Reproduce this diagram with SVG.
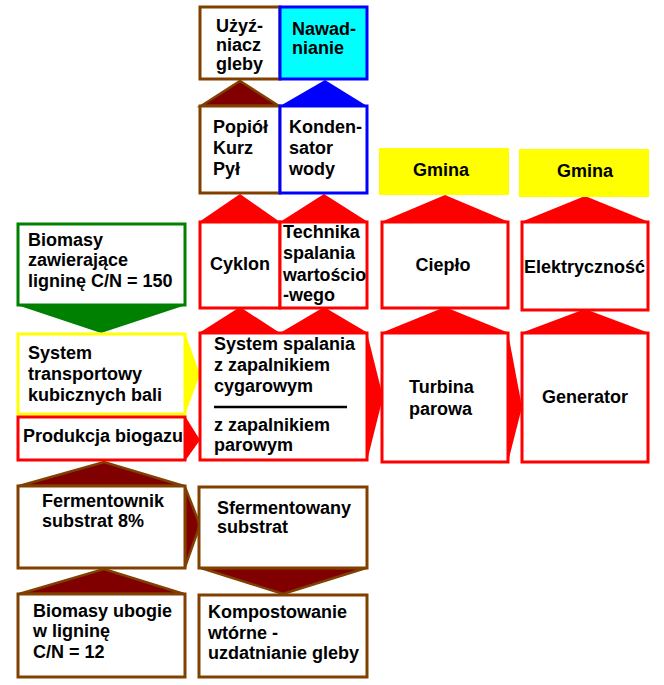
<svg xmlns="http://www.w3.org/2000/svg" width="664" height="685" viewBox="0 0 664 685">
<style>
text{font-family:"Liberation Sans",Arial,sans-serif;font-weight:bold;font-size:18px;fill:#000}
.c{text-anchor:middle}
.box{fill:#fff;stroke-width:3}
.br{stroke:#804000}
.rd{stroke:#ff0000}
.bl{stroke:#0000ff}
.gr{stroke:#008000}
.ye{stroke:#ffff00}
.abr{fill:#800000;stroke:#804000;stroke-width:2.5;stroke-linejoin:miter}
.ard{fill:#ff0000}
.abl{fill:#0000ff}
.agr{fill:#008000}
.aye{fill:#ffff00}
</style>
<rect width="664" height="685" fill="#fff"/>
<g id="connectors">
<polygon class="abr" points="201,106 240,81 279,106"/>
<polygon class="abl" points="280,106 325,80 367,106"/>
<polygon class="ard" points="199,222 240,194 280,222"/>
<polygon class="ard" points="280,222 324,194 368,222"/>
<polygon class="ard" points="199,333 240,307 280,333"/>
<polygon class="ard" points="280,333 324,307 368,333"/>
<polygon class="ard" points="381,222 445,195 509,222"/>
<polygon class="ard" points="521,222 585,196 649,222"/>
<polygon class="ard" points="381,333 445,307 509,333"/>
<polygon class="ard" points="521,333 585,309 649,333"/>
<polygon class="ard" points="367,333 383,397 367,461"/>
<polygon class="ard" points="508,333 522,407 508,462"/>
<polygon class="agr" points="17,305 186,305 101,333"/>
<polygon class="aye" points="185,333 200,374 185,415"/>
<polygon class="ard" points="185,416 200,440 185,461"/>
<polygon class="abr" points="19,486 104,462 184,486"/>
<polygon class="abr" points="185,487 200,525 185,567"/>
<polygon class="abr" points="19,594 104,569 184,594"/>
<polygon class="abr" points="201,568 283,594 366,568"/>
</g>
<g id="n-uzyzniacz"><rect class="box br" x="200" y="7" width="80" height="72"/><text x="216" y="32">Użyź-</text><text x="216" y="51">niacz</text><text x="216" y="70">gleby</text></g>
<g id="n-nawadnianie"><rect class="box bl" x="280" y="7" width="87" height="72" style="fill:#00ffff"/><text x="292" y="35">Nawad-</text><text x="292" y="54">nianie</text></g>
<g id="n-popiol"><rect class="box br" x="200" y="106" width="80" height="87"/><text x="213" y="133">Popiół</text><text x="213" y="154">Kurz</text><text x="213" y="175">Pył</text></g>
<g id="n-kondensator"><rect class="box bl" x="280" y="106" width="87" height="87"/><text x="289" y="133">Konden-</text><text x="289" y="154">sator</text><text x="289" y="175">wody</text></g>
<g id="n-cyklon"><rect class="box rd" x="200" y="222" width="80" height="86"/><text class="c" x="240" y="270">Cyklon</text></g>
<g id="n-technika"><rect class="box rd" x="280" y="222" width="87" height="86"/><text x="283" y="238">Technika</text><text x="283" y="259">spalania</text><text x="283" y="281" textLength="83" lengthAdjust="spacingAndGlyphs">wartościo</text><text x="283" y="301">-wego</text></g>
<g id="n-system-spalania"><rect class="box rd" x="200" y="333" width="167" height="127"/><text x="214" y="350">System spalania</text><text x="214" y="371">z zapalnikiem</text><text x="214" y="392">cygarowym</text><line x1="214" y1="407" x2="347" y2="407" stroke="#000" stroke-width="2.5"/><text x="214" y="431">z zapalnikiem</text><text x="214" y="451">parowym</text></g>
<g id="n-gmina1"><rect x="379" y="148" width="130" height="47" fill="#ffff00"/><text class="c" x="441" y="176">Gmina</text></g>
<g id="n-gmina2"><rect x="519" y="149" width="130" height="48" fill="#ffff00"/><text class="c" x="585" y="177">Gmina</text></g>
<g id="n-cieplo"><rect class="box rd" x="382" y="222" width="126" height="86"/><text class="c" x="443" y="271">Ciepło</text></g>
<g id="n-elektrycznosc"><rect class="box rd" x="522" y="222" width="126" height="88"/><text x="524" y="273" textLength="121" lengthAdjust="spacingAndGlyphs">Elektryczność</text></g>
<g id="n-turbina"><rect class="box rd" x="382" y="333" width="126" height="129"/><text x="409" y="393">Turbina</text><text x="409" y="415">parowa</text></g>
<g id="n-generator"><rect class="box rd" x="522" y="333" width="126" height="129"/><text class="c" x="585" y="403">Generator</text></g>
<g id="n-biomasy-lignina"><rect class="box gr" x="18" y="224" width="167" height="81"/><text x="28" y="246">Biomasy</text><text x="28" y="266">zawierające</text><text x="28" y="287">ligninę C/N = 150</text></g>
<g id="n-transport"><rect class="box ye" x="18" y="334" width="167" height="80"/><text x="28" y="359">System</text><text x="28" y="380">transportowy</text><text x="28" y="401">kubicznych bali</text></g>
<g id="n-biogaz"><rect class="box rd" x="18" y="417" width="167" height="43"/><text x="23" y="442">Produkcja biogazu</text></g>
<g id="n-fermentownik"><rect class="box br" x="18" y="486" width="167" height="82"/><text x="42" y="507">Fermentownik</text><text x="42" y="527">substrat 8%</text></g>
<g id="n-biomasy-ubogie"><rect class="box br" x="18" y="594" width="167" height="83"/><text x="33" y="617">Biomasy ubogie</text><text x="33" y="637">w ligninę</text><text x="33" y="658">C/N = 12</text></g>
<g id="n-sfermentowany"><rect class="box br" x="199" y="487" width="168" height="81"/><text x="217" y="514">Sfermentowany</text><text x="217" y="533">substrat</text></g>
<g id="n-kompostowanie"><rect class="box br" x="199" y="595" width="168" height="82"/><text x="208" y="618">Kompostowanie</text><text x="208" y="639">wtórne -</text><text x="208" y="659">uzdatnianie gleby</text></g>
</svg>
